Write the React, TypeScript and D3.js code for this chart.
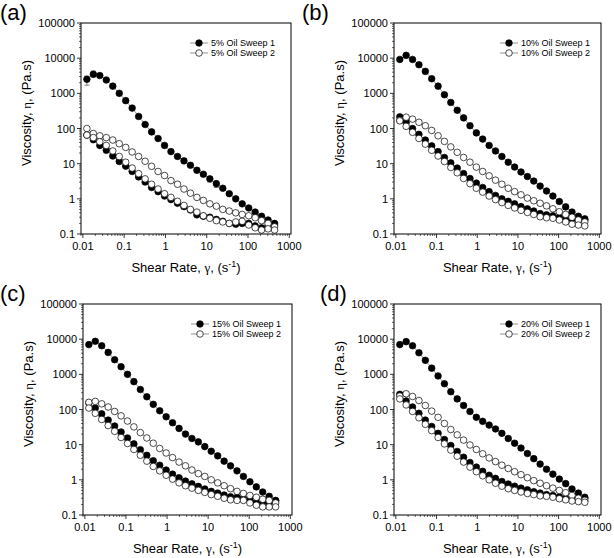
import React from "react";
import * as d3 from "d3";

// shear rate points of each sweep (s^-1), same for up and down ramps
const shearRate = [
  0.0125, 0.0179, 0.0257, 0.0369, 0.053, 0.076, 0.109, 0.156, 0.224, 0.322,
  0.462, 0.663, 0.951, 1.36, 1.96, 2.81, 4.03, 5.78, 8.29, 11.9,
  17.1, 24.5, 35.1, 50.4, 72.3, 104, 149, 213, 306, 440,
];

const xTickValues = [0.01, 0.1, 1, 10, 100, 1000];
const yTickValues = [0.1, 1, 10, 100, 1000, 10000, 100000];

// 5% oil
const a1Up = [2500, 3500, 3200, 2400, 1600, 1000, 620, 380, 220, 130, 80, 52, 33, 22, 16, 12, 9, 6.5, 5, 3.7, 2.7, 2.0, 1.4, 1.0, 0.72, 0.55, 0.42, 0.32, 0.25, 0.2];
const a1Down = [65, 48, 33, 24, 16.5, 11.5, 8.5, 6, 4.2, 3, 2.1, 1.6, 1.2, 0.95, 0.75, 0.6, 0.48, 0.35, 0.32, 0.3, 0.26, 0.23, 0.2, 0.19, 0.2, 0.2, 0.17, 0.15, 0.17, 0.18];
const a2Up = [100, 72, 62, 55, 47, 37, 29, 21.5, 16, 11.7, 8.4, 6, 4.6, 3.3, 2.6, 1.9, 1.45, 1.1, 0.9, 0.72, 0.62, 0.5, 0.45, 0.4, 0.36, 0.33, 0.29, 0.24, 0.2, 0.16];
const a2Down = [65, 55, 42, 33, 23, 16, 11, 7.5, 5.2, 3.7, 2.6, 1.9, 1.4, 1.1, 0.85, 0.65, 0.5, 0.42, 0.33, 0.28, 0.24, 0.22, 0.2, 0.22, 0.23, 0.18, 0.15, 0.13, 0.14, 0.13];
// [index, low, high] on sweep 1 up
const a1UpErr = [[0, 1700, 3100], [1, 2900, 4300], [17, 5.5, 7.6], [19, 3.0, 4.3], [20, 2.1, 3.1]];

// 10% oil
const b1Up = [9200, 12000, 9200, 6500, 4200, 2600, 1600, 910, 550, 330, 200, 120, 75, 50, 33, 23, 16, 11, 8, 5.8, 4.3, 3.2, 2.3, 1.67, 1.2, 0.84, 0.59, 0.42, 0.32, 0.27];
const b1Down = [215, 150, 100, 68, 47, 32, 22, 15, 10.5, 7.5, 5.2, 3.8, 2.8, 2.1, 1.6, 1.25, 1.0, 0.85, 0.72, 0.6, 0.52, 0.45, 0.38, 0.35, 0.33, 0.3, 0.28, 0.27, 0.25, 0.25];
const b2Up = [170, 210, 185, 150, 120, 88, 62, 43, 30, 21, 15, 11, 8, 6, 4.5, 3.4, 2.6, 2.0, 1.6, 1.3, 1.05, 0.88, 0.75, 0.63, 0.52, 0.43, 0.36, 0.3, 0.25, 0.22];
const b2Down = [165, 115, 78, 52, 36, 24, 16.5, 11.5, 7.8, 5.5, 3.8, 2.7, 2.0, 1.55, 1.2, 0.95, 0.78, 0.65, 0.55, 0.47, 0.41, 0.36, 0.31, 0.29, 0.28, 0.25, 0.22, 0.19, 0.18, 0.17];

// 15% oil
const c1Up = [7000, 8700, 6500, 4200, 2600, 1650, 1000, 620, 370, 230, 140, 92, 62, 42, 29, 20, 15, 12, 8.8, 6.5, 4.8, 3.4, 2.5, 1.8, 1.25, 0.88, 0.63, 0.45, 0.34, 0.26];
const c1Down = [155, 110, 75, 50, 34, 23, 15.5, 10.5, 7.2, 5, 3.5, 2.6, 1.9, 1.45, 1.15, 0.92, 0.77, 0.65, 0.55, 0.47, 0.42, 0.37, 0.33, 0.32, 0.3, 0.26, 0.23, 0.21, 0.22, 0.25];
const c2Up = [160, 170, 145, 118, 88, 66, 47, 32, 22, 15.5, 11, 7.8, 5.8, 4.3, 3.2, 2.5, 1.9, 1.5, 1.25, 1.0, 0.82, 0.68, 0.56, 0.47, 0.41, 0.36, 0.32, 0.28, 0.26, 0.22];
const c2Down = [110, 78, 52, 35, 24, 16, 10.8, 7.3, 5, 3.4, 2.4, 1.8, 1.35, 1.05, 0.82, 0.68, 0.58, 0.5, 0.44, 0.38, 0.34, 0.3, 0.27, 0.26, 0.26, 0.22, 0.19, 0.17, 0.17, 0.17];

// 20% oil
const d1Up = [7000, 8500, 6500, 4100, 2500, 1500, 900, 540, 320, 200, 130, 88, 60, 46, 36, 28, 21, 15, 11, 8, 5.6, 4, 2.8, 2.0, 1.45, 1.05, 0.78, 0.55, 0.42, 0.32];
const d1Down = [270, 175, 118, 78, 50, 33, 21, 14, 9.5, 6.4, 4.4, 3.1, 2.3, 1.75, 1.35, 1.1, 0.9, 0.76, 0.66, 0.58, 0.52, 0.46, 0.42, 0.38, 0.36, 0.33, 0.3, 0.28, 0.28, 0.3];
const d2Up = [240, 280, 235, 180, 130, 90, 60, 40, 27, 19, 13.5, 9.8, 7.3, 5.5, 4.2, 3.3, 2.6, 2.1, 1.7, 1.4, 1.15, 0.95, 0.8, 0.68, 0.58, 0.5, 0.43, 0.36, 0.3, 0.26];
const d2Down = [200, 135, 88, 58, 38, 25, 16, 10.5, 7, 4.7, 3.2, 2.3, 1.7, 1.3, 1.0, 0.8, 0.66, 0.56, 0.5, 0.45, 0.41, 0.38, 0.35, 0.34, 0.32, 0.29, 0.27, 0.25, 0.24, 0.23];

const H = 211;
const FONT = "'Liberation Sans', Arial, sans-serif";
const GREEK = "'Liberation Serif', 'Times New Roman', serif";

interface PanelProps {
  left: number;
  top: number;
  width: number;
  label: string;
  labelX: number;
  titleX: number;
  oil: string;
  s1Up: number[];
  s1Down: number[];
  s2Up: number[];
  s2Down: number[];
  errs?: number[][];
}

const Panel: React.FC<PanelProps> = ({ left, top, width: W, label, labelX, titleX, oil, s1Up, s1Down, s2Up, s2Down, errs = [] }) => {
  const x = d3.scaleLog().domain([0.009, 1100]).range([0, W]);
  const y = d3.scaleLog().domain([0.1, 100000]).range([H, 0]);

  const isMajor = (v: number) => Math.abs(Math.log10(v) - Math.round(Math.log10(v))) < 1e-6;
  const xMinor = x.ticks().filter((v) => !isMajor(v));
  const yMinor = y.ticks().filter((v) => !isMajor(v));

  const line = d3
    .line<[number, number]>()
    .x((d) => x(d[0]))
    .y((d) => y(d[1]));

  const loop = (up: number[], down: number[]) => {
    const pts: [number, number][] = up.map((v, i) => [shearRate[i], v]);
    for (let i = down.length - 1; i >= 0; i--) pts.push([shearRate[i], down[i]]);
    return pts;
  };

  const sweep1 = loop(s1Up, s1Down);
  const sweep2 = loop(s2Up, s2Down);
  const r = 3.3;
  const lx = W - 101;

  return (
    <g>
      <text x={labelX} y={top - 3} fontSize={22} fontFamily={FONT}>{label}</text>
      <g transform={`translate(${left},${top})`}>
        {/* lines */}
        <path d={line(sweep1) || ""} fill="none" stroke="#7a7a7a" strokeWidth={0.8} />
        <path d={line(sweep2) || ""} fill="none" stroke="#7a7a7a" strokeWidth={0.8} />

        {/* error bars */}
        {errs.map(([i, lo, hi], k) => (
          <g key={k} stroke="#666" strokeWidth={0.8}>
            <line x1={x(shearRate[i])} x2={x(shearRate[i])} y1={y(lo)} y2={y(hi)} />
            <line x1={x(shearRate[i]) - 2.5} x2={x(shearRate[i]) + 2.5} y1={y(lo)} y2={y(lo)} />
            <line x1={x(shearRate[i]) - 2.5} x2={x(shearRate[i]) + 2.5} y1={y(hi)} y2={y(hi)} />
          </g>
        ))}

        {sweep1.map((d, i) => (
          <circle key={"f" + i} cx={x(d[0])} cy={y(d[1])} r={r} fill="#000" stroke="#000" strokeWidth={0.7} />
        ))}
        {sweep2.map((d, i) => (
          <circle key={"o" + i} cx={x(d[0])} cy={y(d[1])} r={r} fill="#fff" stroke="#000" strokeWidth={0.7} />
        ))}

        {/* frame */}
        <rect x={0} y={0} width={W} height={H} fill="none" stroke="#000" strokeWidth={1} />

        {/* x axis */}
        {xTickValues.map((v) => (
          <g key={"xt" + v}>
            <line x1={x(v)} x2={x(v)} y1={H} y2={H + 4} stroke="#000" strokeWidth={0.8} />
            <text x={x(v)} y={H + 16} fontSize={11} fontFamily={FONT} textAnchor="middle">{String(v)}</text>
          </g>
        ))}
        {xMinor.map((v) => (
          <line key={"xm" + v} x1={x(v)} x2={x(v)} y1={H} y2={H + 2} stroke="#000" strokeWidth={0.6} />
        ))}

        {/* y axis */}
        {yTickValues.map((v) => (
          <g key={"yt" + v}>
            <line x1={-4} x2={0} y1={y(v)} y2={y(v)} stroke="#000" strokeWidth={0.8} />
            <text x={-6} y={y(v) + 4} fontSize={11} fontFamily={FONT} textAnchor="end">{String(v)}</text>
          </g>
        ))}
        {yMinor.map((v) => (
          <line key={"ym" + v} x1={-2} x2={0} y1={y(v)} y2={y(v)} stroke="#000" strokeWidth={0.6} />
        ))}

        {/* legend */}
        <g fontFamily={FONT} fontSize={9}>
          <line x1={lx} x2={lx + 18} y1={20} y2={20} stroke="#7a7a7a" strokeWidth={0.8} />
          <circle cx={lx + 9} cy={20} r={r} fill="#000" stroke="#000" strokeWidth={0.7} />
          <text x={lx + 21} y={23}>{`${oil} Oil Sweep 1`}</text>
          <line x1={lx} x2={lx + 18} y1={30} y2={30} stroke="#7a7a7a" strokeWidth={0.8} />
          <circle cx={lx + 9} cy={30} r={r} fill="#fff" stroke="#000" strokeWidth={0.7} />
          <text x={lx + 21} y={33}>{`${oil} Oil Sweep 2`}</text>
        </g>

        {/* axis titles */}
        <text x={W / 2} y={H + 38} fontSize={13} fontFamily={FONT} textAnchor="middle">
          Shear Rate, <tspan fontFamily={GREEK}>γ</tspan>, (s
          <tspan fontSize={9} dy={-5}>-1</tspan>
          <tspan dy={5}>)</tspan>
        </text>
      </g>
      <text
        transform={`translate(${titleX},${top + 90}) rotate(-90)`}
        fontSize={13}
        fontFamily={FONT}
        textAnchor="middle"
      >
        Viscosity, <tspan fontFamily={GREEK}>η</tspan>, (Pa.s)
      </text>
    </g>
  );
};

export default function App() {
  return (
    <svg width={614} height={558} style={{ position: "absolute", left: 0, top: 0, background: "#fff" }}>
      <Panel left={81} top={23} width={210} label="(a)" labelX={0} titleX={31} oil="5%" s1Up={a1Up} s1Down={a1Down} s2Up={a2Up} s2Down={a2Down} errs={a1UpErr} />
      <Panel left={394} top={23} width={207} label="(b)" labelX={302} titleX={344} oil="10%" s1Up={b1Up} s1Down={b1Down} s2Up={b2Up} s2Down={b2Down} />
      <Panel left={83} top={304} width={209} label="(c)" labelX={0} titleX={33} oil="15%" s1Up={c1Up} s1Down={c1Down} s2Up={c2Up} s2Down={c2Down} />
      <Panel left={394} top={304} width={207} label="(d)" labelX={320} titleX={344} oil="20%" s1Up={d1Up} s1Down={d1Down} s2Up={d2Up} s2Down={d2Down} />
    </svg>
  );
}
